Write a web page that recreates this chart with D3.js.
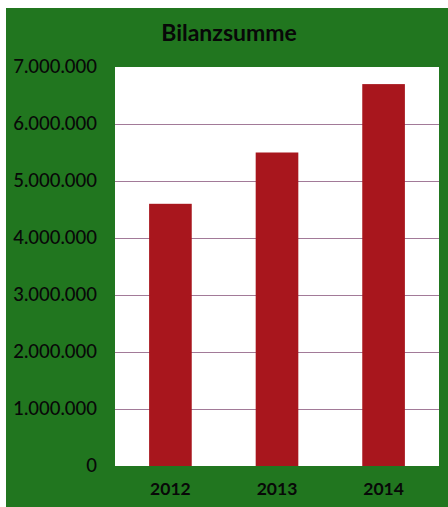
<!DOCTYPE html>
<html><head><meta charset="utf-8">
<script src="https://cdn.jsdelivr.net/npm/d3@7"></script>
<style>body{margin:0;background:#fff}svg{display:block}</style>
</head><body>
<svg id="c" width="448" height="507"></svg>
<script>
const title = "Bilanzsumme";
const years = ["2012", "2013", "2014"];
const values = [4600000, 5500000, 6700000];
const yTicks = [0, 1000000, 2000000, 3000000, 4000000, 5000000, 6000000, 7000000];

const svg = d3.select("#c");
const m = {left:115, right:439, top:67, bottom:466};
svg.append("rect").attr("x",6).attr("y",8).attr("width",442).attr("height",499).attr("fill","#21761f");
svg.append("rect").attr("x",m.left).attr("y",m.top).attr("width",m.right-m.left).attr("height",m.bottom-m.top).attr("fill","#ffffff");

const x = d3.scaleBand().domain(years).range([m.left, m.right]).paddingInner(0.6).paddingOuter(0.32);
const y = d3.scaleLinear().domain([0, 7000000]).range([m.bottom, m.top]);
const fmt = v => d3.format(",")(v).replace(/,/g, ".");

svg.append("g").selectAll("line").data(yTicks.filter(d=>d>0 && d<7000000)).join("line")
  .attr("x1", m.left).attr("x2", m.right)
  .attr("y1", d=>Math.round(y(d))+0.5).attr("y2", d=>Math.round(y(d))+0.5)
  .attr("stroke", "#a27a98").attr("stroke-width", 1);

svg.append("g").selectAll("rect").data(values).join("rect")
  .attr("x", (d,i)=>x(years[i])).attr("width", x.bandwidth())
  .attr("y", d=>y(d)).attr("height", d=>y(0)-y(d))
  .attr("fill", "#a8161d");

const yAxis = d3.axisLeft(y).tickValues(yTicks).tickFormat(fmt).tickSize(0).tickPadding(0);
const ya = svg.append("g").attr("transform", "translate(97,0)").call(yAxis);
ya.select(".domain").remove();
ya.selectAll("text").attr("font-family","Lato, 'Open Sans', sans-serif").attr("font-size",18.5).attr("font-weight",500).attr("fill","#080808");

const xAxis = d3.axisBottom(x).tickSize(0).tickPadding(0);
const xa = svg.append("g").attr("transform", "translate(0,483)").call(xAxis);
xa.select(".domain").remove();
xa.selectAll("text").attr("font-family","Lato, 'Open Sans', sans-serif").attr("font-size",17.5).attr("font-weight","bold").attr("fill","#080808");

svg.append("text").attr("x", 229).attr("y", 41).attr("text-anchor","middle")
  .attr("font-family","Lato, 'Open Sans', sans-serif").attr("font-size",23).attr("font-weight","bold")
  .attr("fill","#080808").text(title);
</script>
</body></html>
